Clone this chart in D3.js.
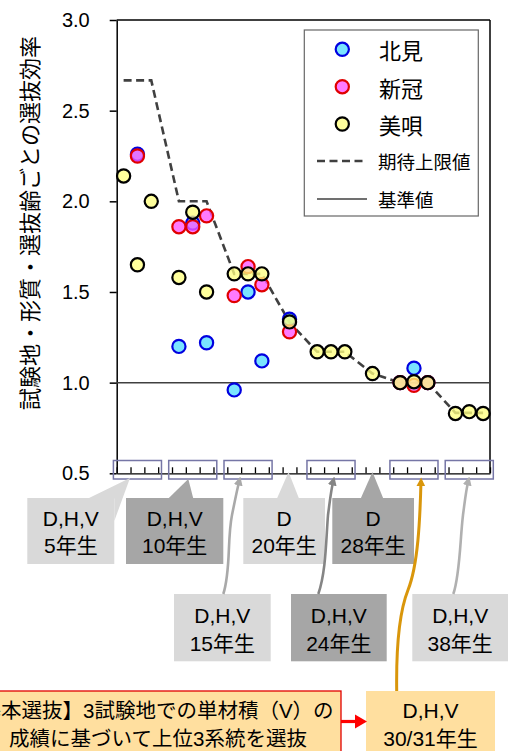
<!DOCTYPE html>
<html><head><meta charset="utf-8">
<script src="https://cdn.jsdelivr.net/npm/d3@7"></script>
<style>body{margin:0;background:#fff} svg{display:block}</style>
</head><body><svg id="c" width="509" height="751"></svg>
<script>
// ---------- data ----------
const categories = ["5-D","5-H","5-V","g1","10-D","10-H","10-V","g2","15-D","15-H","15-V","g3","20-D","g4","24-D","24-H","24-V","g5","28-D","g6","30-D","30-H","30-V","g7","38-D","38-H","38-V"];
const kitami   = [null,2.26,null,null,1.20,1.88,1.22,null,0.96,1.50,1.12,null,1.35,null,null,null,null,null,null,null,1.00,1.08,1.00,null,null,null,null];
const niikappu = [null,2.25,null,null,1.86,1.86,1.92,null,1.48,1.64,1.54,null,1.28,null,null,null,null,null,null,null,1.00,0.985,1.00,null,null,null,null];
const bibai    = [2.14,1.65,2.00,null,1.58,1.94,1.50,null,1.60,1.60,1.60,null,1.335,null,1.17,1.17,1.17,null,1.05,null,1.00,1.005,1.00,null,0.83,0.84,0.83];
const upperLimit = [2.667,2.667,2.667,null,2.0,2.0,2.0,null,1.6,1.6,1.6,null,1.333,null,1.17,1.17,1.17,null,1.05,null,1.0,1.0,1.0,null,0.833,0.833,0.833];
const baselineValue = 1.0;
const yTicks = [0.5,1.0,1.5,2.0,2.5,3.0];
const seriesNames = ["北見","新冠","美唄"];
const lineNames = ["期待上限値","基準値"];
const yTitle = "試験地・形質・選抜齢ごとの選抜効率";
const groupSpans = [[0,3],[4,7],[8,11],[14,17],[20,23],[24,27]];
const upperCallouts = [["D,H,V","5年生"],["D,H,V","10年生"],["D","20年生"],["D","28年生"]];
const lowerCallouts = [["D,H,V","15年生"],["D,H,V","24年生"],["D,H,V","38年生"]];
const finalCallout = ["D,H,V","30/31年生"];
const noteLines = ["【基本選抜】3試験地での単材積（V）の","成績に基づいて上位3系統を選抜"];

// ---------- setup ----------
const svg = d3.select("#c");
const L = 116.7, R = 490, T = 20, B = 473.3;
const latin = "'Liberation Sans', Arial, 'Noto Sans CJK JP', sans-serif";
const cjk = "'Noto Sans CJK JP', sans-serif";

const x = d3.scaleBand().domain(categories).range([L, R]).padding(0);
const xc = c => x(c) + x.bandwidth()/2;
const xb = d3.scaleLinear().domain([0, categories.length]).range([L, R]);
const y = d3.scaleLinear().domain([0.5, 3.0]).range([B, T]);

// frame
svg.append("line").attr("x1",L).attr("x2",R).attr("y1",T).attr("y2",T).attr("stroke","#000").attr("stroke-width",1.5);
svg.append("line").attr("x1",R).attr("x2",R).attr("y1",T).attr("y2",B).attr("stroke","#000").attr("stroke-width",1.5);

// y axis
const ya = svg.append("g").attr("transform",`translate(${L},0)`)
  .call(d3.axisLeft(y).tickValues(yTicks).tickFormat(d3.format(".1f")).tickSize(7).tickSizeOuter(0).tickPadding(20));
ya.selectAll("path,line").attr("stroke","#000").attr("stroke-width",1.5);
ya.selectAll("text").attr("font-family",latin).attr("font-size",20).attr("fill","#000");

// x axis (boundary ticks, inside)
const xa = svg.append("g").attr("transform",`translate(0,${B})`)
  .call(d3.axisBottom(xb).tickValues(d3.range(0, categories.length+1)).tickSize(-6).tickSizeOuter(0).tickFormat(""));
xa.selectAll("path,line").attr("stroke","#000").attr("stroke-width",1.3);

// group boxes
svg.append("g").selectAll("rect").data(groupSpans).join("rect")
  .attr("x", d => xb(d[0]) - 3.3).attr("width", d => xb(d[1]) - xb(d[0]) + 6.6)
  .attr("y", 460.5).attr("height", 18.5)
  .attr("fill","none").attr("stroke","#7676a6").attr("stroke-width",1.5);

// y title
svg.append("text").attr("transform","translate(28,223) rotate(-90)")
  .attr("text-anchor","middle").attr("dominant-baseline","central")
  .attr("font-family",cjk).attr("font-size",22).attr("fill","#000").text(yTitle);

// baseline 1.0
svg.append("line").attr("x1",L).attr("x2",R).attr("y1",y(baselineValue)).attr("y2",y(baselineValue))
  .attr("stroke","#404040").attr("stroke-width",1.5);

// expected upper limit
const lineGen = d3.line().x(d => xc(d.c)).y(d => y(d.v));
const ulData = categories.map((c,i) => ({c, v: upperLimit[i]})).filter(d => d.v != null);
svg.append("path").attr("d", lineGen(ulData)).attr("fill","none")
  .attr("stroke","#404040").attr("stroke-width",2.6).attr("stroke-dasharray","8,4.5");

// points
const styles = [
  {fill:"#55dcff", stroke:"#0000e0"},
  {fill:"#ff55ff", stroke:"#e00000"},
  {fill:"#ffff80", stroke:"#000000"}
];
[kitami, niikappu, bibai].forEach((arr, si) => {
  const pts = categories.map((c,i) => ({c, v: arr[i]})).filter(d => d.v != null);
  svg.append("g").selectAll("circle").data(pts).join("circle")
    .attr("cx", d => xc(d.c)).attr("cy", d => y(d.v)).attr("r", 6.6)
    .attr("fill", styles[si].fill).attr("fill-opacity", 0.78)
    .attr("stroke", styles[si].stroke).attr("stroke-width", 2.2);
});

// legend
const lg = svg.append("g");
lg.append("rect").attr("x",304.3).attr("y",30).attr("width",174).attr("height",186)
  .attr("fill","#fff").attr("stroke","#666").attr("stroke-width",1.2);
const legY = [49.3, 86.7, 124];
seriesNames.forEach((n,i) => {
  lg.append("circle").attr("cx",342.3).attr("cy",legY[i]).attr("r",6.6)
    .attr("fill",styles[i].fill).attr("fill-opacity",0.78).attr("stroke",styles[i].stroke).attr("stroke-width",2.2);
  lg.append("text").attr("x",379).attr("y",legY[i]).attr("dominant-baseline","central")
    .attr("font-family",cjk).attr("font-size",22).attr("fill","#000").text(n);
});
const lineY = [161, 199];
lg.append("line").attr("x1",317).attr("x2",367).attr("y1",lineY[0]).attr("y2",lineY[0])
  .attr("stroke","#404040").attr("stroke-width",2.6).attr("stroke-dasharray","8,4.5");
lg.append("line").attr("x1",317).attr("x2",367).attr("y1",lineY[1]).attr("y2",lineY[1])
  .attr("stroke","#404040").attr("stroke-width",1.5);
lineNames.forEach((n,i) => {
  lg.append("text").attr("x",378).attr("y",lineY[i]).attr("dominant-baseline","central")
    .attr("font-family",cjk).attr("font-size",18.5).attr("fill","#000").text(n);
});

// ---------- annotations ----------
const light = "#d9d9d9", dark = "#a6a6a6", orange = "#ffdf9f";
const ann = svg.append("g");

function callout(lines, x0, x1, y0, y1, fill, b1, b2) {
  ann.append("rect").attr("x",x0).attr("y",y0).attr("width",x1-x0).attr("height",y1-y0).attr("fill",fill);
  const cx = (x0+x1)/2;
  lines.forEach((t,i) => {
    ann.append("text").attr("x",cx).attr("y", i === 0 ? b1 : b2).attr("text-anchor","middle")
      .attr("font-family",latin).attr("font-size",21).attr("fill","#000").text(t);
  });
}

// upper row wedges
ann.append("polygon").attr("points","88,498.5 130,478 114.3,521 114.3,498.5").attr("fill",light);
ann.append("polygon").attr("points","168.3,498.5 188.3,479 193.3,498.5").attr("fill",dark);
ann.append("polygon").attr("points",`277,498.5 ${xc("20-D")-1},472 299,498.5`).attr("fill",light);
ann.append("polygon").attr("points",`360.7,498.5 ${xc("28-D")},472 383.3,498.5`).attr("fill",dark);

callout(upperCallouts[0], 27.3, 114.3, 498, 564, light, 526, 553);
callout(upperCallouts[1], 126, 223.3, 498, 564, dark, 526, 553);
callout(upperCallouts[2], 243.3, 325, 498, 564, light, 526, 553);
callout(upperCallouts[3], 332.3, 414, 498, 564, dark, 526, 553);

callout(lowerCallouts[0], 174, 270.7, 594, 661.3, light, 623, 651);
callout(lowerCallouts[1], 291, 386.7, 594, 661.3, dark, 623, 651);
callout(lowerCallouts[2], 412.3, 508, 594, 661.3, light, 623, 651);

callout(finalCallout, 366, 495, 691, 760, orange, 718, 746);

// note box
ann.append("rect").attr("x",-25).attr("y",691).attr("width",366).attr("height",70)
  .attr("fill",orange).attr("stroke","#e00000").attr("stroke-width",1.3);
ann.append("text").attr("x",-40).attr("y",718).attr("font-family",latin).attr("font-size",20.5).attr("fill","#000").text(noteLines[0]);
ann.append("text").attr("x",158).attr("y",746).attr("text-anchor","middle").attr("font-family",latin).attr("font-size",20.5).attr("fill","#000").text(noteLines[1]);

// red arrow
ann.append("line").attr("x1",341).attr("x2",356).attr("y1",721.5).attr("y2",721.5).attr("stroke","#ff0000").attr("stroke-width",3.2);
ann.append("polygon").attr("points","355,714.5 367,721.5 355,728.5").attr("fill","#ff0000");

// curved arrows
const defs = svg.append("defs");
function marker(id, color) {
  defs.append("marker").attr("id",id).attr("viewBox","0 0 10 10").attr("refX",6).attr("refY",5)
    .attr("markerWidth",9).attr("markerHeight",9).attr("markerUnits","userSpaceOnUse").attr("orient","auto")
    .append("path").attr("d","M0,0 L10,5 L0,10 z").attr("fill",color);
}
const arrows = [
  {d:"M223.3,594 C231,570 227,540 232,515 C235,500 237,490 239.5,480", c:"#a9a9a9", w:2.6},
  {d:"M318.3,594 C326,572 326,540 328,515 C330,500 331,490 333.5,480", c:"#858585", w:2.6},
  {d:"M453.3,594 C460,575 460,540 463,515 C465,500 466,490 468.5,480", c:"#b0b0b0", w:2.6},
  {d:"M396.7,691 C396,640 400,610 408,590 C418,565 420,520 421,481", c:"#d9960b", w:3}
];
arrows.forEach((a,i) => {
  marker("m"+i, a.c);
  ann.append("path").attr("d",a.d).attr("fill","none").attr("stroke",a.c).attr("stroke-width",a.w)
    .attr("marker-end",`url(#m${i})`);
});
</script></body></html>
